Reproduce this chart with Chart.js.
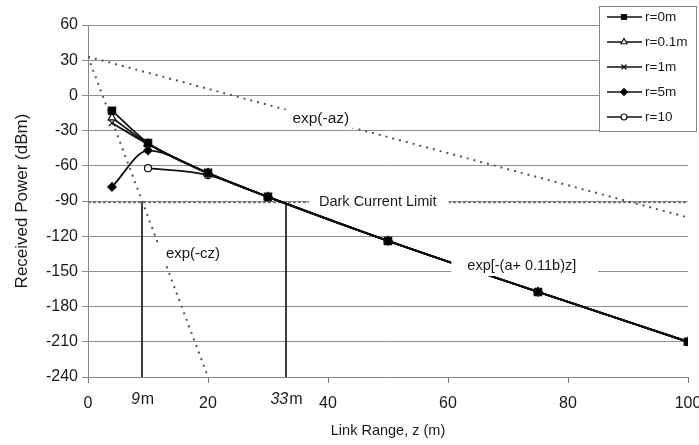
<!DOCTYPE html>
<html><head><meta charset="utf-8">
<script src="https://cdn.jsdelivr.net/npm/chart.js@4.4.1/dist/chart.umd.min.js"></script>
<style>html,body{margin:0;padding:0;background:#fff}#wrap{width:699px;height:445px;position:relative}</style>
</head><body><div id="wrap"><canvas id="c"></canvas></div>
<script>
// ---- data ----
const ranges = [4, 10, 20, 30, 50, 75, 100];
const seriesNames = ['r=0m', 'r=0.1m', 'r=1m', 'r=5m', 'r=10'];
const r0  = [-13, -40.5, -66, -86.5, -124, -167.5, -210];
const r01 = [-19, -41, -66, -86.5, -124, -167.5, -210];
const r1  = [-23.5, -41.5, -66.5, -86.5, -124, -167.5, -210];
const r5  = [-78, -47, -66.5, -86.5, -124, -167.5, -210];
const r10 = [null, -62, -68, -86.5, -124, -167.5, -210];
const expAzX = [0, 100];   const expAzY = [33, -104];
const expCzX = [0, 20];    const expCzY = [33, -240];
const darkX = [0, 100];    const darkY = [-91, -91];
const cut9X = [9, 9];      const cutY = [-91, -240];
const cut33X = [33, 33];
const xTicks = [0, 20, 40, 60, 80, 100];
const yTicks = [60, 30, 0, -30, -60, -90, -120, -150, -180, -210, -240];

const FONT = "'Liberation Sans', Arial, sans-serif";
const pts = (xs, ys) => xs.map((x, i) => ({x: x, y: ys[i]}));

const markerStyles = [
  {pointStyle: 'rect', radius: 5.2, fill: '#000'},
  {pointStyle: 'triangle', radius: 4.5, fill: '#fff'},
  {pointStyle: 'crossRot', radius: 4.5, fill: '#000'},
  {pointStyle: 'rectRot', radius: 4.2, fill: '#000'},
  {pointStyle: 'circle', radius: 3.5, fill: '#fff'}
];
const seriesVals = [r0, r01, r1, r5, r10];

const datasets = seriesVals.map((vals, i) => ({
  label: seriesNames[i],
  data: pts(ranges, vals),
  showLine: true,
  borderColor: '#111',
  borderWidth: 1.8,
  cubicInterpolationMode: 'monotone',
  pointStyle: markerStyles[i].pointStyle,
  pointRadius: markerStyles[i].radius,
  pointBackgroundColor: markerStyles[i].fill,
  pointBorderColor: '#111',
  pointBorderWidth: 1.2,
  spanGaps: false,
  order: 1
}));

const guide = (data, opts) => Object.assign({
  data: data, showLine: true, pointRadius: 0, borderColor: '#444',
  borderWidth: 2, fill: false, order: 2
}, opts);

datasets.push(guide(pts(expAzX, expAzY), {label: 'exp(-az)', borderDash: [2, 5], borderColor: '#555'}));
datasets.push(guide(pts(expCzX, expCzY), {label: 'exp(-cz)', borderDash: [2, 5], borderColor: '#555'}));
datasets.push(guide(pts(darkX, darkY), {label: 'dark', borderDash: [3, 2], borderColor: '#777', borderWidth: 2}));
datasets.push(guide(pts(cut9X, cutY), {label: 'cut9', borderColor: '#222', borderWidth: 1}));
datasets.push(guide(pts(cut33X, cutY), {label: 'cut33', borderColor: '#222', borderWidth: 1}));

const textLabels = [
  {text: 'exp(-az)', x: 38.8, y: -20, size: 15.5, padL: 8, padR: 6, padV: 9},
  {text: 'Dark Current Limit', x: 48.3, y: -91, size: 14.5, padL: 10, padR: 12, padV: 7},
  {text: 'exp(-cz)', x: 17.5, y: -135, size: 15, padL: 8, padR: 6, padV: 9},
  {text: 'exp[-(a+ 0.11b)z]', x: 72.3, y: -145.5, size: 14.5, padL: 16, padR: 22, padV: 10}
];
const cutLabels = [{num: '9', x: 9}, {num: '33', x: 33}];

const overlay = {
  id: 'overlay',
  afterDatasetsDraw(chart) {
    const ctx = chart.ctx, xs = chart.scales.x, ys = chart.scales.y;
    ctx.save();
    textLabels.forEach(l => {
      ctx.font = l.size + 'px ' + FONT;
      const w = ctx.measureText(l.text).width;
      const cx = xs.getPixelForValue(l.x), cy = ys.getPixelForValue(l.y);
      ctx.fillStyle = '#fff';
      ctx.fillRect(cx - w / 2 - l.padL, cy - l.padV, w + l.padL + l.padR, l.padV * 2);
      ctx.fillStyle = '#1a1a1a';
      ctx.textAlign = 'center';
      ctx.textBaseline = 'middle';
      ctx.fillText(l.text, cx, cy);
    });
    ctx.restore();
  },
  afterDraw(chart) {
    const ctx = chart.ctx, xs = chart.scales.x;
    ctx.save();
    cutLabels.forEach(c => {
      const cx = xs.getPixelForValue(c.x);
      ctx.font = 'italic 16px ' + FONT;
      const wn = ctx.measureText(c.num).width;
      ctx.font = '16px ' + FONT;
      const wm = ctx.measureText('m').width;
      const start = cx - (wn + wm) / 2;
      ctx.fillStyle = '#1a1a1a';
      ctx.textBaseline = 'middle';
      ctx.textAlign = 'left';
      ctx.font = 'italic 16px ' + FONT;
      ctx.fillText(c.num, start, 400);
      ctx.font = '16px ' + FONT;
      ctx.fillText('m', start + wn + 1, 400);
    });
    const bx = 599, by = 6, bw = 97, bh = 125;
    ctx.fillStyle = '#fff';
    ctx.fillRect(bx, by, bw, bh);
    ctx.strokeStyle = '#888';
    ctx.lineWidth = 1;
    ctx.strokeRect(bx + 0.5, by + 0.5, bw, bh);
    seriesNames.forEach((name, i) => {
      const y = 17 + i * 25;
      ctx.strokeStyle = '#111';
      ctx.lineWidth = 1.6;
      ctx.beginPath();
      ctx.moveTo(607, y); ctx.lineTo(642, y);
      ctx.stroke();
      const m = markerStyles[i];
      ctx.fillStyle = m.fill;
      ctx.strokeStyle = '#111';
      ctx.lineWidth = 1.2;
      Chart.helpers.drawPoint(ctx, {pointStyle: m.pointStyle, radius: Math.min(m.radius, 4) - 0.5, rotation: 0, borderWidth: 1.2}, 624, y);
      ctx.fillStyle = '#1a1a1a';
      ctx.font = '13.5px ' + FONT;
      ctx.textAlign = 'left';
      ctx.textBaseline = 'middle';
      ctx.fillText(name, 645, y + 0.5);
    });
    ctx.restore();
  }
};

new Chart(document.getElementById('c'), {
  type: 'scatter',
  data: {datasets: datasets},
  options: {
    responsive: true,
    maintainAspectRatio: false,
    animation: false,
    layout: {padding: {top: 25, right: 11, left: 0, bottom: 0}},
    plugins: {legend: {display: false}, tooltip: {enabled: false}},
    scales: {
      x: {
        type: 'linear', min: 0, max: 100,
        afterBuildTicks(s) { s.ticks = xTicks.map(v => ({value: v})); },
        ticks: {font: {size: 16, family: FONT}, color: '#1a1a1a', padding: 11, maxRotation: 0},
        grid: {drawOnChartArea: false, drawTicks: true, tickLength: 6, color: '#777'},
        border: {color: '#888', width: 1},
        title: {display: true, text: 'Link Range, z (m)', font: {size: 14.5, family: FONT}, color: '#1a1a1a', padding: {top: 0, bottom: 5}},
        afterFit(s) { s.height = 68; s.paddingRight = 0; s.paddingLeft = 0; }
      },
      y: {
        type: 'linear', min: -240, max: 60,
        afterBuildTicks(s) { s.ticks = yTicks.map(v => ({value: v})); },
        ticks: {font: {size: 16, family: FONT}, color: '#1a1a1a', padding: 4},
        grid: {color: '#8f8f8f', lineWidth: 1, drawTicks: true, tickLength: 6},
        border: {color: '#888', width: 1},
        title: {display: true, text: 'Received Power (dBm)', font: {size: 17, family: FONT}, color: '#1a1a1a', padding: {top: 12, bottom: 0}},
        afterFit(s) { s.width = 88; }
      }
    }
  },
  plugins: [overlay]
});
</script></body></html>
